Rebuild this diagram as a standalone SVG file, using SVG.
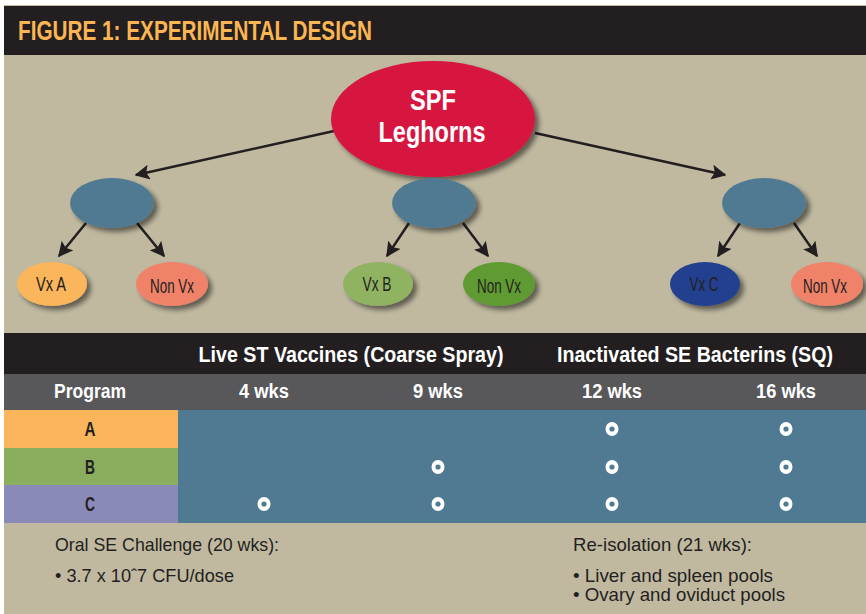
<svg xmlns="http://www.w3.org/2000/svg" width="866" height="614" viewBox="0 0 866 614">
<defs>
<style>
text{font-family:"Liberation Sans",Arial,sans-serif;}
.title{fill:#fbb552;font-size:27px;font-weight:bold;}
.wh{fill:#ffffff;font-weight:bold;}
.node{font-size:21px;fill:#231f20;text-anchor:middle;}
.cell{font-size:20px;fill:#ffffff;font-weight:bold;text-anchor:middle;}
.rowl{font-size:20px;fill:#231f20;font-weight:bold;text-anchor:middle;}
.foot{font-size:19px;fill:#231f20;}
.conn line{stroke:#231f20;stroke-width:2.5;}
.ring{fill:#ffffff;}
.hole{fill:#4f7a91;}
</style>
<marker id="ahs" viewBox="0 0 10 10" refX="9" refY="5" markerWidth="6" markerHeight="6" orient="auto">
<path d="M0,0 L10,5 L0,10 L2,5 z" fill="#231f20"/>
</marker>
<filter id="sh" x="-30%" y="-30%" width="160%" height="170%">
<feGaussianBlur in="SourceAlpha" stdDeviation="2.5"/>
<feOffset dx="4" dy="4" result="o"/>
<feComponentTransfer><feFuncA type="linear" slope="0.5"/></feComponentTransfer>
<feMerge><feMergeNode/><feMergeNode in="SourceGraphic"/></feMerge>
</filter>
</defs>
<rect x="0" y="0" width="866" height="614" fill="#ffffff"/>
<rect x="4" y="5" width="862" height="1" fill="#c0b9a0"/>
<rect x="4" y="6" width="862" height="49" fill="#231f20"/>
<text class="title" x="18" y="40" textLength="354" lengthAdjust="spacingAndGlyphs">FIGURE 1: EXPERIMENTAL DESIGN</text>
<rect x="4" y="55" width="862" height="278" fill="#c0b9a0"/>

<g class="conn">
<line x1="334" y1="131" x2="136" y2="175" marker-end="url(#ahs)"/>
<line x1="535" y1="133" x2="725" y2="175" marker-end="url(#ahs)"/>
<line x1="86" y1="223" x2="59" y2="256" marker-end="url(#ahs)"/>
<line x1="137" y1="223" x2="164" y2="256" marker-end="url(#ahs)"/>
<line x1="409" y1="223" x2="387" y2="256" marker-end="url(#ahs)"/>
<line x1="463" y1="223" x2="488" y2="256" marker-end="url(#ahs)"/>
<line x1="740" y1="223" x2="718" y2="256" marker-end="url(#ahs)"/>
<line x1="794" y1="223" x2="817" y2="256" marker-end="url(#ahs)"/>
</g>

<g id="spf">
<ellipse cx="433" cy="119" rx="102" ry="58" fill="#d7143f" filter="url(#sh)"/>
<text class="wh" x="433" y="110" font-size="30" text-anchor="middle" textLength="46" lengthAdjust="spacingAndGlyphs">SPF</text>
<text class="wh" x="432" y="142" font-size="30" text-anchor="middle" textLength="107" lengthAdjust="spacingAndGlyphs">Leghorns</text>
</g>
<g id="groupA"><ellipse cx="112" cy="203" rx="42" ry="25" fill="#4f7a91" filter="url(#sh)"/></g>
<g id="groupB"><ellipse cx="434" cy="203" rx="42" ry="25" fill="#4f7a91" filter="url(#sh)"/></g>
<g id="groupC"><ellipse cx="764" cy="203" rx="42" ry="25" fill="#4f7a91" filter="url(#sh)"/></g>

<g id="vxA"><ellipse cx="52" cy="284" rx="35" ry="22" fill="#fbb55a" filter="url(#sh)"/>
<text class="node" x="51" y="291" textLength="30" lengthAdjust="spacingAndGlyphs">Vx A</text></g>
<g id="nonA"><ellipse cx="172" cy="284" rx="36" ry="22" fill="#f0826a" filter="url(#sh)"/>
<text class="node" x="172" y="293" textLength="44" lengthAdjust="spacingAndGlyphs">Non Vx</text></g>
<g id="vxB"><ellipse cx="378" cy="284" rx="35" ry="22" fill="#8fb360" filter="url(#sh)"/>
<text class="node" x="377" y="291" textLength="29" lengthAdjust="spacingAndGlyphs">Vx B</text></g>
<g id="nonB"><ellipse cx="499" cy="284" rx="36" ry="22" fill="#5f9a30" filter="url(#sh)"/>
<text class="node" x="499" y="293" textLength="44" lengthAdjust="spacingAndGlyphs">Non Vx</text></g>
<g id="vxC"><ellipse cx="705" cy="284" rx="35" ry="22" fill="#213f8f" filter="url(#sh)"/>
<text class="node" x="704" y="291" textLength="29" lengthAdjust="spacingAndGlyphs">Vx C</text></g>
<g id="nonC"><ellipse cx="827" cy="284" rx="36" ry="22" fill="#f0826a" filter="url(#sh)"/>
<text class="node" x="825" y="293" textLength="44" lengthAdjust="spacingAndGlyphs">Non Vx</text></g>

<g id="table">
<rect x="4" y="333" width="862" height="41" fill="#231f20"/>
<text class="wh" x="351" y="362" font-size="22" text-anchor="middle" textLength="305" lengthAdjust="spacingAndGlyphs">Live ST Vaccines (Coarse Spray)</text>
<text class="wh" x="695" y="362" font-size="22" text-anchor="middle" textLength="276" lengthAdjust="spacingAndGlyphs">Inactivated SE Bacterins (SQ)</text>
<rect x="4" y="374" width="862" height="36" fill="#58585a"/>
<text class="cell" x="90" y="398" textLength="72" lengthAdjust="spacingAndGlyphs">Program</text>
<text class="cell" x="264" y="398" textLength="50" lengthAdjust="spacingAndGlyphs">4 wks</text>
<text class="cell" x="438" y="398" textLength="50" lengthAdjust="spacingAndGlyphs">9 wks</text>
<text class="cell" x="612" y="398" textLength="60" lengthAdjust="spacingAndGlyphs">12 wks</text>
<text class="cell" x="786" y="398" textLength="60" lengthAdjust="spacingAndGlyphs">16 wks</text>
<rect x="178" y="410" width="688" height="113" fill="#4f7a91"/>
<rect x="4" y="410" width="174" height="38" fill="#fbb55a"/>
<rect x="4" y="448" width="174" height="37" fill="#8bad5e"/>
<rect x="4" y="485" width="174" height="38" fill="#8a8ab9"/>
<text class="rowl" x="90" y="436" textLength="11" lengthAdjust="spacingAndGlyphs">A</text>
<text class="rowl" x="90" y="474" textLength="10" lengthAdjust="spacingAndGlyphs">B</text>
<text class="rowl" x="90" y="511" textLength="10" lengthAdjust="spacingAndGlyphs">C</text>
<g id="marks">
<ellipse class="ring" cx="612" cy="429" rx="6.5" ry="7"/><circle class="hole" cx="612" cy="429" r="2.6"/>
<ellipse class="ring" cx="786" cy="429" rx="6.5" ry="7"/><circle class="hole" cx="786" cy="429" r="2.6"/>
<ellipse class="ring" cx="438" cy="467" rx="6.5" ry="7"/><circle class="hole" cx="438" cy="467" r="2.6"/>
<ellipse class="ring" cx="612" cy="467" rx="6.5" ry="7"/><circle class="hole" cx="612" cy="467" r="2.6"/>
<ellipse class="ring" cx="786" cy="467" rx="6.5" ry="7"/><circle class="hole" cx="786" cy="467" r="2.6"/>
<ellipse class="ring" cx="264" cy="504" rx="6.5" ry="7"/><circle class="hole" cx="264" cy="504" r="2.6"/>
<ellipse class="ring" cx="438" cy="504" rx="6.5" ry="7"/><circle class="hole" cx="438" cy="504" r="2.6"/>
<ellipse class="ring" cx="612" cy="504" rx="6.5" ry="7"/><circle class="hole" cx="612" cy="504" r="2.6"/>
<ellipse class="ring" cx="786" cy="504" rx="6.5" ry="7"/><circle class="hole" cx="786" cy="504" r="2.6"/>
</g>
</g>

<rect x="4" y="523" width="862" height="91" fill="#c0b9a0"/>
<g id="notes">
<text class="foot" x="55" y="551" textLength="224" lengthAdjust="spacingAndGlyphs">Oral SE Challenge (20 wks):</text>
<text class="foot" x="55" y="582" textLength="179" lengthAdjust="spacingAndGlyphs">• 3.7 x 10ˆ7 CFU/dose</text>
<text class="foot" x="573" y="551" textLength="179" lengthAdjust="spacingAndGlyphs">Re-isolation (21 wks):</text>
<text class="foot" x="573" y="582" textLength="200" lengthAdjust="spacingAndGlyphs">• Liver and spleen pools</text>
<text class="foot" x="573" y="601" textLength="212" lengthAdjust="spacingAndGlyphs">• Ovary and oviduct pools</text>
</g>
</svg>
